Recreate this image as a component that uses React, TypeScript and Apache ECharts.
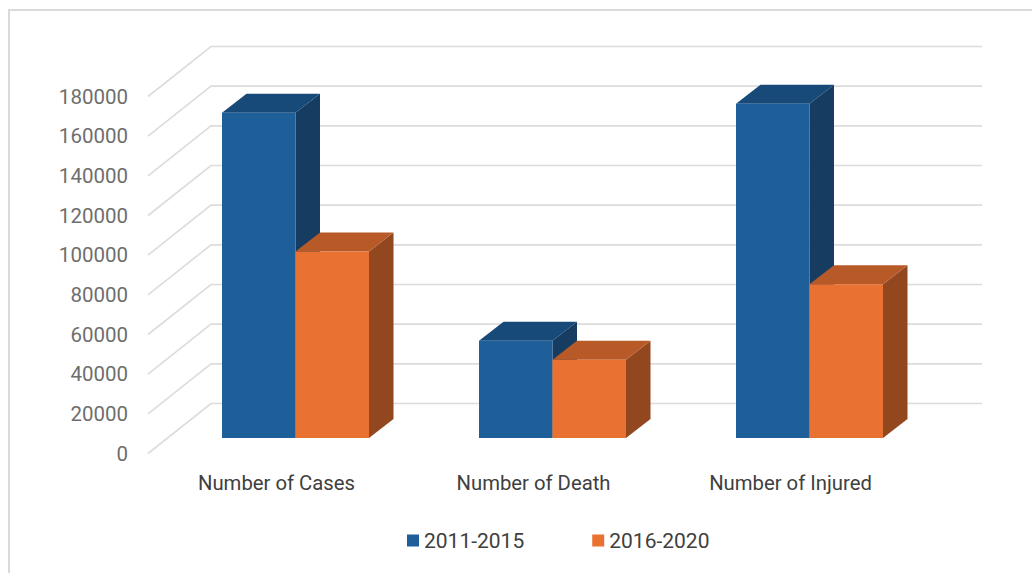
import React, { useEffect, useRef } from "react";
import * as echarts from "echarts";

const categories = ["Number of Cases", "Number of Death", "Number of Injured"];
const seriesNames = ["2011-2015", "2016-2020"];
const values2011 = [164000, 49000, 168500];
const values2016 = [94000, 39500, 77500];
const ticks = [0, 20000, 40000, 60000, 80000, 100000, 120000, 140000, 160000, 180000];

const FONT = "Roboto, sans-serif";
const WALL_DX = 63;
const WALL_DY = -50;
const BAR_SHIFT_X = 19;
const BAR_SHIFT_Y = -15.5;
const BAR_W = 73.5;
const DEPTH_X = 24.5;
const DEPTH_Y = -19;

const wallItem = (_p: any, api: any) => {
  const [x0, y] = api.coord([0, api.value(0)]);
  const x = x0 - api.size([1, 0])[0] / 2;
  const w = api.size([1, 0])[0] * 3;
  return {
    type: "polyline",
    shape: { points: [[x, y], [x + WALL_DX, y + WALL_DY], [x + WALL_DX + w, y + WALL_DY]] },
    style: { stroke: "#dcdcdc", lineWidth: 1.6, fill: "none" },
    silent: true,
  };
};

const barItem = (side: number, front: string, top: string, right: string) => (_p: any, api: any) => {
  const cat = api.value(0);
  const c = api.coord([cat, api.value(1)]);
  const b = api.coord([cat, 0]);
  const xl = c[0] + BAR_SHIFT_X + (side < 0 ? -BAR_W : 0);
  const xr = xl + BAR_W;
  const yt = c[1] + BAR_SHIFT_Y;
  const yb = b[1] + BAR_SHIFT_Y;
  return {
    type: "group",
    children: [
      { type: "polygon", shape: { points: [[xr, yt], [xr + DEPTH_X, yt + DEPTH_Y], [xr + DEPTH_X, yb + DEPTH_Y], [xr, yb]] }, style: { fill: right } },
      { type: "polygon", shape: { points: [[xl, yt], [xl + DEPTH_X, yt + DEPTH_Y], [xr + DEPTH_X, yt + DEPTH_Y], [xr, yt]] }, style: { fill: top } },
      { type: "rect", shape: { x: xl, y: yt, width: BAR_W, height: yb - yt }, style: { fill: front } },
    ],
  };
};

export default function App() {
  const ref = useRef<HTMLDivElement>(null);
  useEffect(() => {
    document.body.style.margin = "0";
    const chart = echarts.init(ref.current!, null, { renderer: "svg" });
    chart.setOption({
      animation: false,
      backgroundColor: "#ffffff",
      graphic: [
        {
          type: "polyline",
          shape: { points: [[9, 573], [9, 10], [1032, 10]] },
          style: { stroke: "#d9d9d9", lineWidth: 2, fill: "none" },
          silent: true,
        },
      ],
      grid: { left: 148, top: 96.5, width: 771, height: 357 },
      legend: {
        data: seriesNames,
        left: 407,
        top: 530,
        padding: 0,
        itemWidth: 12,
        itemHeight: 12,
        itemGap: 68,
        icon: "rect",
        textStyle: { fontFamily: FONT, fontSize: 21, color: "#404040" },
      },
      xAxis: {
        type: "category",
        data: categories,
        axisLine: { show: false },
        axisTick: { show: false },
        splitLine: { show: false },
        axisLabel: { fontFamily: FONT, fontSize: 20.3, color: "#404040", margin: 19 },
      },
      yAxis: {
        type: "value",
        min: 0,
        max: 180000,
        interval: 20000,
        axisLine: { show: false },
        axisTick: { show: false },
        splitLine: { show: false },
        axisLabel: {
          fontFamily: FONT,
          fontSize: 20.5,
          color: "#6e6e6e",
          margin: 20,
          padding: [1, 0, 0, 0],
          formatter: (v: number) => String(v),
        },
      },
      series: [
        {
          type: "custom",
          name: "walls",
          renderItem: wallItem,
          encode: { y: 0 },
          data: ticks.map((t) => [t]),
          silent: true,
          z: 1,
        },
        {
          type: "custom",
          name: seriesNames[0],
          renderItem: barItem(-1, "#1f5f99", "#174a78", "#163c62"),
          itemStyle: { color: "#1f5f99" },
          encode: { x: 0, y: 1 },
          data: values2011.map((v, i) => [i, v]),
          z: 2,
        },
        {
          type: "custom",
          name: seriesNames[1],
          renderItem: barItem(1, "#e97132", "#b85a27", "#93471f"),
          itemStyle: { color: "#e97132" },
          encode: { x: 0, y: 1 },
          data: values2016.map((v, i) => [i, v]),
          z: 3,
        },
      ],
    });
    return () => chart.dispose();
  }, []);
  return <div ref={ref} style={{ width: 1032, height: 573, overflow: "hidden" }} />;
}
